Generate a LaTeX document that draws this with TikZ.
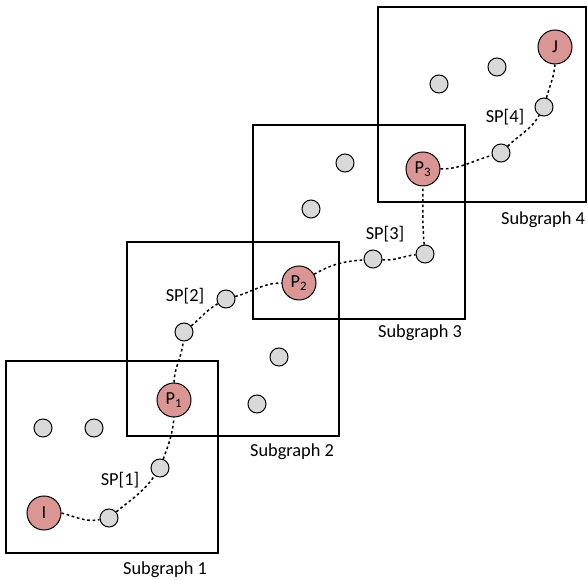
\documentclass[tikz,border=0pt]{standalone}
\usepackage{fontspec}
\setmainfont{Carlito}
\definecolor{keyred}{HTML}{D99694}
\definecolor{plaingray}{HTML}{D9D9D9}
\begin{document}
\begin{tikzpicture}[
    x=0.6pt, y=0.6pt,
    font=\fontsize{11}{13}\selectfont,
    keynode/.style={
        circle,
        draw,
        line width=0.6pt,
        fill=keyred,
        inner sep=0pt,
        minimum size=20.4pt,
    },
    plainnode/.style={
        circle,
        draw,
        line width=0.6pt,
        fill=plaingray,
        inner sep=0pt,
        minimum size=10.8pt,
    },
    sgbox/.style={line width=1.2pt},
    splink/.style={line width=0.9pt, dash pattern=on 1.6pt off 1.6pt},
]

    \useasboundingbox (0,0) rectangle (588,-580);

    % subgraph boxes
    \draw[sgbox] (6,-361)   rectangle (218,-553);
    \draw[sgbox] (127,-242) rectangle (339,-436);
    \draw[sgbox] (253,-125) rectangle (465,-319);
    \draw[sgbox] (378,-7)   rectangle (586,-202);

    \node (sg1) at (165,-570) {Subgraph 1};
    \node (sg2) at (292,-452) {Subgraph 2};
    \node (sg3) at (420,-333) {Subgraph 3};
    \node (sg4) at (543,-220) {Subgraph 4};

    % key nodes
    \node[keynode] (i)  at (44,-513)  {I};
    \node[keynode] (p1) at (174,-400) {P\textsubscript{1}};
    \node[keynode] (p2) at (299,-283) {P\textsubscript{2}};
    \node[keynode] (p3) at (423,-169) {P\textsubscript{3}};
    \node[keynode] (j)  at (555,-47)  {J};

    % other nodes
    \node[plainnode] (a1) at (43,-428)  {};
    \node[plainnode] (a2) at (94,-428)  {};
    \node[plainnode] (a3) at (279,-357) {};
    \node[plainnode] (a4) at (257,-404) {};
    \node[plainnode] (a5) at (345,-163) {};
    \node[plainnode] (a6) at (311,-209) {};
    \node[plainnode] (a7) at (497,-67)  {};
    \node[plainnode] (a8) at (439,-84)  {};

    % nodes on the shortest paths
    \node[plainnode] (s11) at (109,-518) {};
    \node[plainnode] (s12) at (160,-468) {};
    \node[plainnode] (s21) at (184,-332) {};
    \node[plainnode] (s22) at (226,-299) {};
    \node[plainnode] (s31) at (373,-259) {};
    \node[plainnode] (s32) at (425,-254) {};
    \node[plainnode] (s41) at (501,-153) {};
    \node[plainnode] (s42) at (544,-107) {};

    \node (sp1) at (120,-480) {SP[1]};
    \node (sp2) at (185,-296) {SP[2]};
    \node (sp3) at (385,-234) {SP[3]};
    \node (sp4) at (505,-117) {SP[4]};

    \draw[splink] (i.east) to[out=-15,in=190] (s11);
    \draw[splink] (s11) to[out=40,in=235] (s12);
    \draw[splink] (s12) to[out=70,in=-95] (p1.south);
    \draw[splink] (p1.north) to[out=88,in=-95] (s21);
    \draw[splink] (s21) to[out=40,in=210] (s22);
    \draw[splink] (s22) to[out=15,in=180] (p2.west);
    \draw[splink] (p2) to[out=30,in=185] (s31);
    \draw[splink] (s31) to[out=-5,in=185] (s32);
    \draw[splink] (s32) to[out=95,in=-90] (p3.south);
    \draw[splink] (p3.east) to[out=0,in=195] (s41);
    \draw[splink] (s41) to[out=45,in=240] (s42);
    \draw[splink] (s42) to[out=75,in=-95] (j.south);

\end{tikzpicture}
\end{document}
